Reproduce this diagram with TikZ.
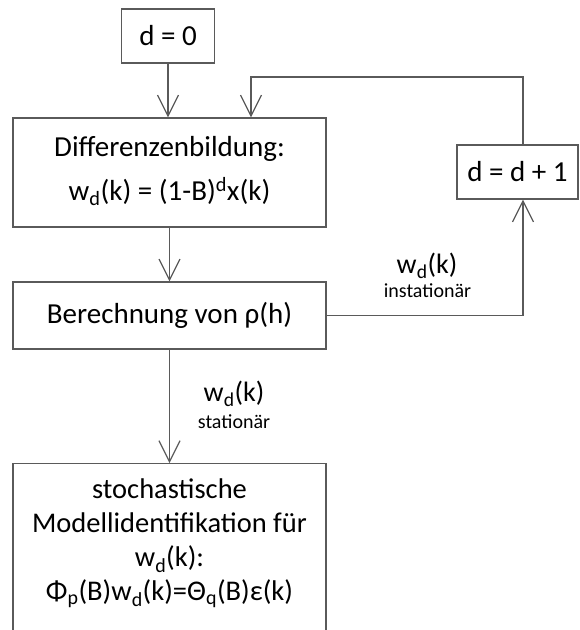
\documentclass[tikz,border=0pt]{standalone}
\usepackage{fontspec}
\setmainfont{Carlito}
\usetikzlibrary{arrows.meta, positioning}
\definecolor{linegray}{HTML}{5A5A5A}
\tikzset{
    block/.style={
        rectangle, draw=linegray, line width=1.2pt,
        fill=white, inner sep=0pt,
        font=\fontsize{29}{34}\selectfont
    },
    blocktext/.style={
        inner sep=0pt, align=center,
        font=\fontsize{29}{44}\selectfont
    },
    flow/.style={draw=linegray, line width=1.2pt, -{Straight Barb[length=21pt, width=21pt]}},
    sigvalue/.style={font=\fontsize{28}{30}\selectfont, inner sep=0pt, anchor=base},
    sigstate/.style={font=\fontsize{20}{22}\selectfont, inner sep=0pt, anchor=base}
}

\begin{document}
\begin{tikzpicture}[x=1pt, y=-1pt]
\useasboundingbox (0,0) rectangle (580,630);

% Start value
\node[block, minimum width=93pt, minimum height=54pt] (d0) at (168,36) {d = 0};

% Differencing
\node[block, minimum width=313pt, minimum height=109pt] (diff) at (169.5,172.5) {};
\node[blocktext, below=18.7pt of diff.north] (difftext) {Differenzenbildung:\\w\textsubscript{d}(k) = (1-B)\textsuperscript{d}x(k)};

% Increment
\node[block, minimum width=121pt, minimum height=54pt] (incr) at (517.5,172) {d = d + 1};

% Autocorrelation
\node[block, minimum width=313pt, minimum height=67pt] (rho) at (169.5,315.5) {Berechnung von ρ(h)};

% Model identification
\node[block, minimum width=313pt, minimum height=200pt, anchor=north] (model) at (169.5,463) {};
\node[blocktext, font=\fontsize{28.5}{34}\selectfont, below=16pt of model.north] (modeltext) {stochastische\\Modellidentifikation für\\w\textsubscript{d}(k):\\Φ\textsubscript{p}(B)w\textsubscript{d}(k)=Θ\textsubscript{q}(B)ε(k)};

% Feedback corners
\coordinate (loopup) at (523,77);
\coordinate (loopin) at (251,77);

\draw[flow] (d0.south) -- (d0.south |- diff.north);
\draw[flow] (diff) -- (rho);
\draw[flow] (rho) -- (model);
\draw[flow] (rho.east) -| (incr.south -| loopup);
\draw[flow] (incr.north -| loopup) |- (loopin) -- (loopin |- diff.north);

% Signal labels
\node[sigvalue] (instvalue) at (427,273) {w\textsubscript{d}(k)};
\node[sigstate] (inststate) at (427.5,297) {instationär};
\node[sigvalue] (statvalue) at (234,401) {w\textsubscript{d}(k)};
\node[sigstate] (statstate) at (234,428) {stationär};

\end{tikzpicture}
\end{document}
